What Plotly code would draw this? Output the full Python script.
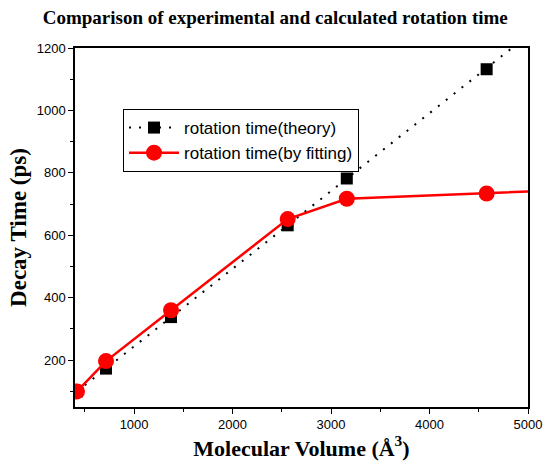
import plotly.graph_objects as go

# Data
volume_theory = [420, 715, 1375, 2560, 3160, 4580, 5600]
time_theory = [100, 173, 338, 632, 782, 1132, 1390]

volume_fit = [420, 715, 1375, 2560, 3160, 4580, 5600]
time_fit = [100, 197, 360, 652, 717, 734, 748]

fig = go.Figure()
fig.add_trace(go.Scatter(
    x=volume_theory, y=time_theory, mode="lines+markers",
    name="rotation time(theory)",
    line=dict(color="black", width=2, dash="2px,8px"),
    marker=dict(symbol="square", size=12, color="black"),
))
fig.add_trace(go.Scatter(
    x=volume_fit, y=time_fit, mode="lines+markers",
    name="rotation time(by fitting)",
    line=dict(color="#ff0000", width=2.5),
    marker=dict(symbol="circle", size=16, color="#ff0000"),
))

axis_common = dict(
    showline=True, linecolor="black", linewidth=1.5, mirror=True,
    ticks="outside", ticklen=5, tickwidth=1, tickcolor="black",
    showgrid=False, zeroline=False, automargin=False,
    tickfont=dict(family="Liberation Sans, Arial", size=13, color="black"),
)

fig.update_layout(
    width=545, height=463,
    margin=dict(l=75, r=17, t=48, b=56),
    paper_bgcolor="white", plot_bgcolor="white",
    title=dict(
        text="<b>Comparison of experimental and calculated rotation time</b>",
        x=0.505, xanchor="center", y=0.963, yanchor="middle",
        font=dict(family="Liberation Serif, Times New Roman", size=19, color="black"),
    ),
    xaxis=dict(
        range=[400, 5000], tick0=0, dtick=1000,
        minor=dict(ticks="outside", ticklen=3, dtick=500, tick0=0, tickcolor="black"),
        title=dict(text="<b>Molecular Volume (Å<sup>3</sup>)</b>", standoff=4,
                   font=dict(family="Liberation Serif, Times New Roman", size=22, color="black")),
        **axis_common,
    ),
    yaxis=dict(
        range=[50, 1200], tick0=0, dtick=200,
        minor=dict(ticks="outside", ticklen=3, dtick=100, tick0=0, tickcolor="black"),
        title=dict(text="<b>Decay Time (ps)</b>", standoff=4,
                   font=dict(family="Liberation Serif, Times New Roman", size=23, color="black")),
        **axis_common,
    ),
    legend=dict(
        x=0.106, y=0.83, xanchor="left", yanchor="top",
        bordercolor="black", borderwidth=1, bgcolor="white",
        font=dict(family="Liberation Sans, Arial", size=17, color="black"),
        itemwidth=50, tracegroupgap=0,
    ),
    showlegend=True,
)

fig.write_html("out.html")
